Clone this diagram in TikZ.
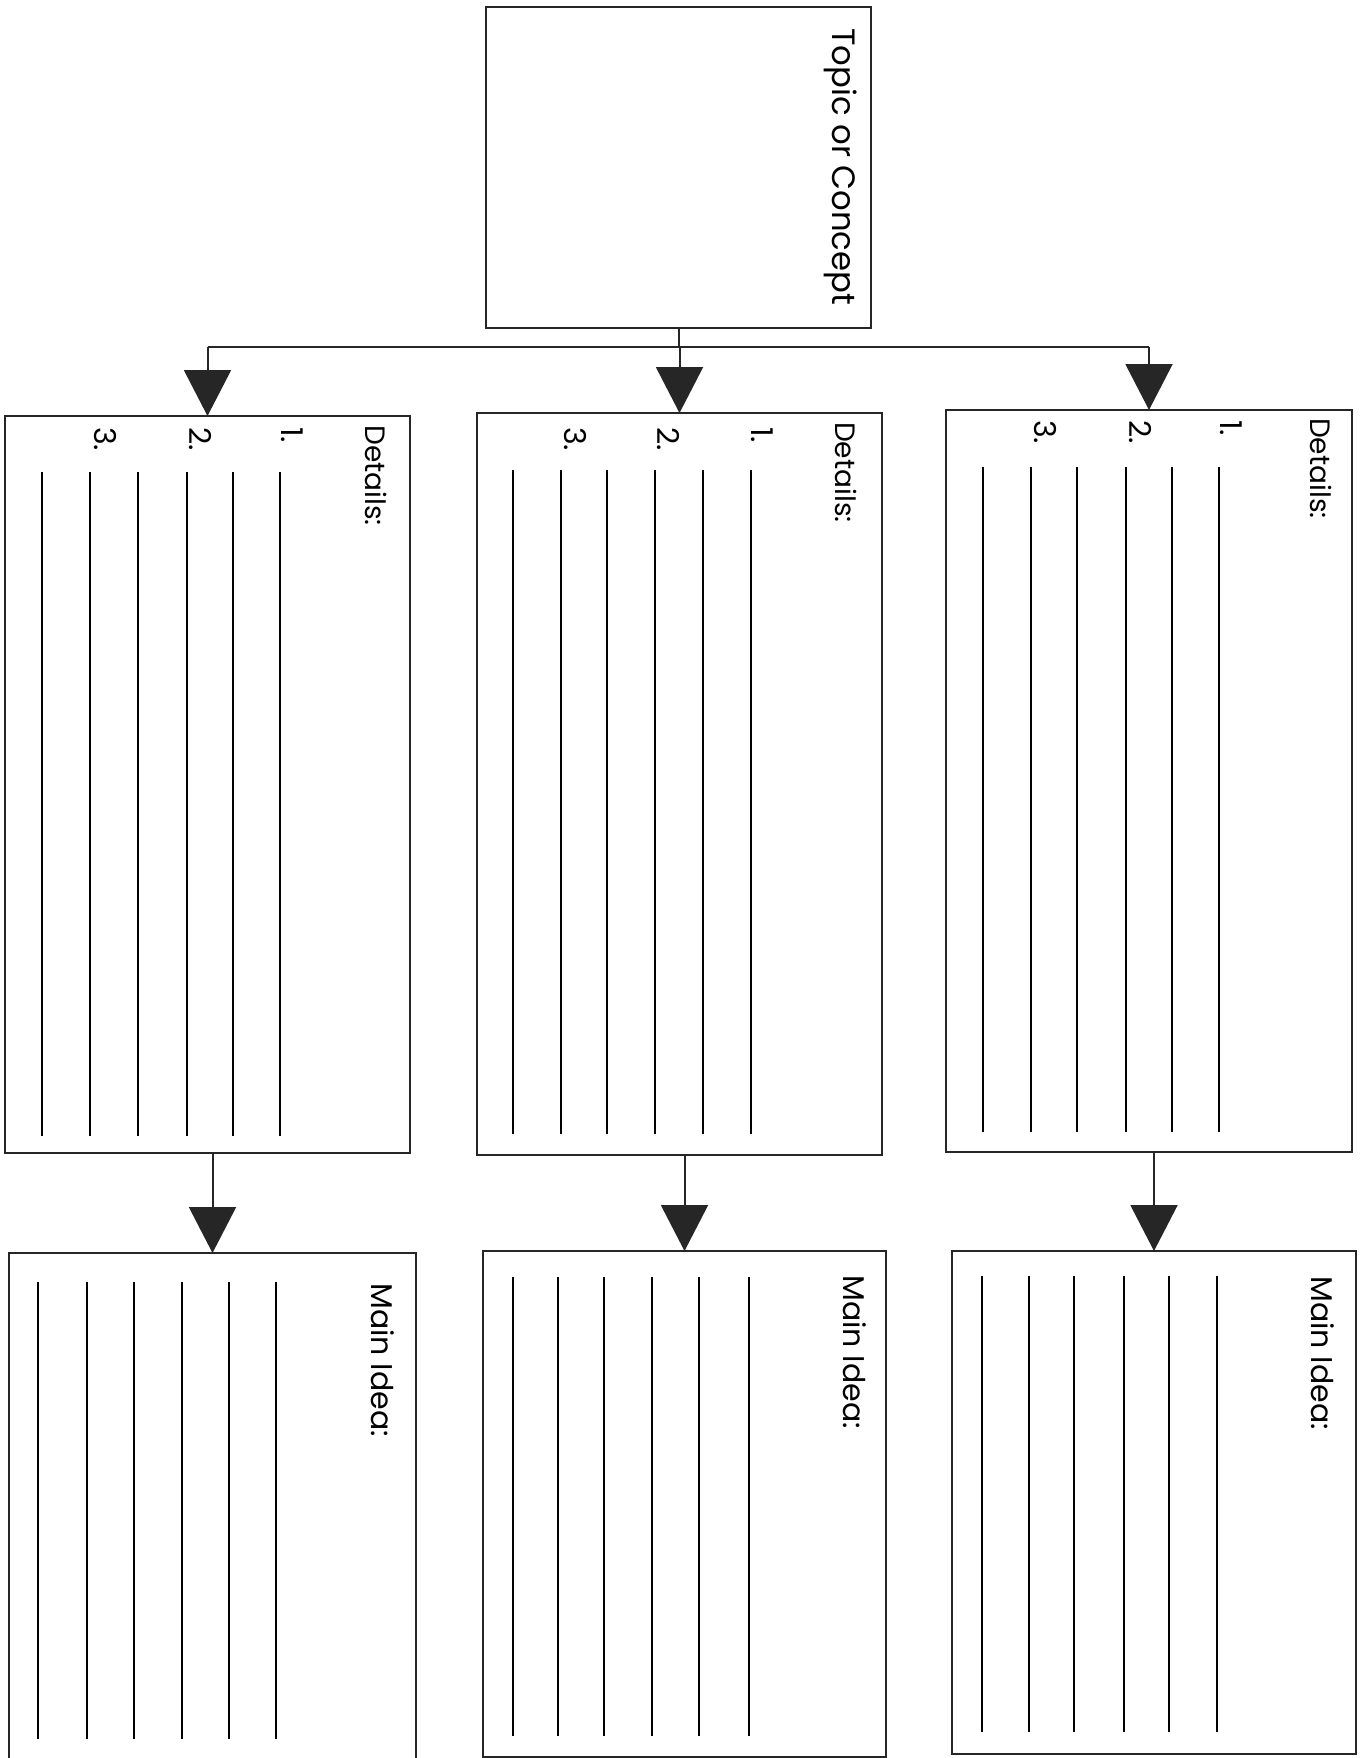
\documentclass[tikz,border=0pt]{standalone}
\usepackage{fontspec}
\setmainfont{Poppins}
\usetikzlibrary{arrows.meta}
\tikzset{
  frame/.style={draw=black!85, line width=2pt, inner sep=0pt, outer sep=0pt},
  wline/.style={draw=black, line width=2.4pt},
  conn/.style={draw=black!85, line width=2pt},
  arr/.style={conn, -{Triangle[width=47pt,length=46pt,color=black!85,fill=black!85]}},
  lbl/.style={rotate=-90, anchor=north west, inner sep=0pt, text=black},
  titlefont/.style={font=\fontsize{32.3}{32}\selectfont},
  headfont/.style={font=\fontsize{28}{28}\selectfont},
  mainfont/.style={font=\fontsize{30}{30}\selectfont},
  numfont/.style={font=\fontsize{30}{30}\selectfont},
}
\begin{document}
\begin{tikzpicture}[x=1pt,y=-1pt]
\useasboundingbox (0,0) rectangle (1361,1758);
\fill[white] (0,0) rectangle (1361,1758);
\clip (0,0) rectangle (1361,1758);

% boxes
\node[frame, minimum width=385pt, minimum height=321pt] (topic) at (678.5,167.5) {};
\node[frame, minimum width=405pt, minimum height=737pt] (d1) at (207.5,784.5) {};
\node[frame, minimum width=405pt, minimum height=742pt] (d2) at (679.5,784) {};
\node[frame, minimum width=406pt, minimum height=742pt] (d3) at (1149,781) {};
\node[frame, minimum width=407pt, minimum height=517pt] (m1) at (212.5,1511.5) {};
\node[frame, minimum width=403pt, minimum height=506pt] (m2) at (684.5,1504) {};
\node[frame, minimum width=404pt, minimum height=503pt] (m3) at (1154,1502.5) {};

% connectors
\coordinate (bus) at (678.5,347);
\draw[conn] (topic.south) -- (bus);
\draw[conn] (bus -| d1.north) -- (bus -| d3.north);
\draw[arr] (bus -| d1.north) -- (d1.north);
\draw[arr] (bus -| d2.north) -- (d2.north);
\draw[arr] (bus -| d3.north) -- (d3.north);
\draw[arr] (d1.south -| m1.north) -- (m1.north);
\draw[arr] (d2.south -| m2.north) -- (m2.north);
\draw[arr] (d3.south -| m3.north) -- (m3.north);

% texts
\node[lbl, titlefont] (tt) at (857,28) {Topic or Concept};

\node[lbl, headfont] (h1) at (387,425) {Details:};
\node[lbl, headfont] (h2) at (857,422) {Details:};
\node[lbl, headfont] (h3) at (1332,418) {Details:};

\node[lbl, numfont] (a1) at (303,427) {1.};
\node[lbl, numfont] (a2) at (212,427) {2.};
\node[lbl, numfont] (a3) at (117,427) {3.};
\node[lbl, numfont] (b1) at (773,427) {1.};
\node[lbl, numfont] (b2) at (680,427) {2.};
\node[lbl, numfont] (b3) at (587,427) {3.};
\node[lbl, numfont] (c1) at (1242,420) {1.};
\node[lbl, numfont] (c2) at (1152,420) {2.};
\node[lbl, numfont] (c3) at (1057,420) {3.};

\node[lbl, mainfont] (k1) at (395,1283) {Main Idea:};
\node[lbl, mainfont] (k2) at (867,1275) {Main Idea:};
\node[lbl, mainfont] (k3) at (1335,1276) {Main Idea:};

% writing lines in detail boxes
\foreach \x in {42,90,138,187,233,280} \draw[wline] (\x,472) -- (\x,1136);
\foreach \x in {513,561,607,655,703,751} \draw[wline] (\x,470) -- (\x,1134);
\foreach \x in {983,1031,1077,1126,1172,1219} \draw[wline] (\x,467) -- (\x,1132);

% writing lines in main idea boxes
\foreach \x in {38,87,134,182,229,276} \draw[wline] (\x,1282) -- (\x,1739);
\foreach \x in {513,558,604,652,699,749} \draw[wline] (\x,1277) -- (\x,1736);
\foreach \x in {982,1029,1074,1124,1169,1217} \draw[wline] (\x,1276) -- (\x,1732);
\end{tikzpicture}
\end{document}
